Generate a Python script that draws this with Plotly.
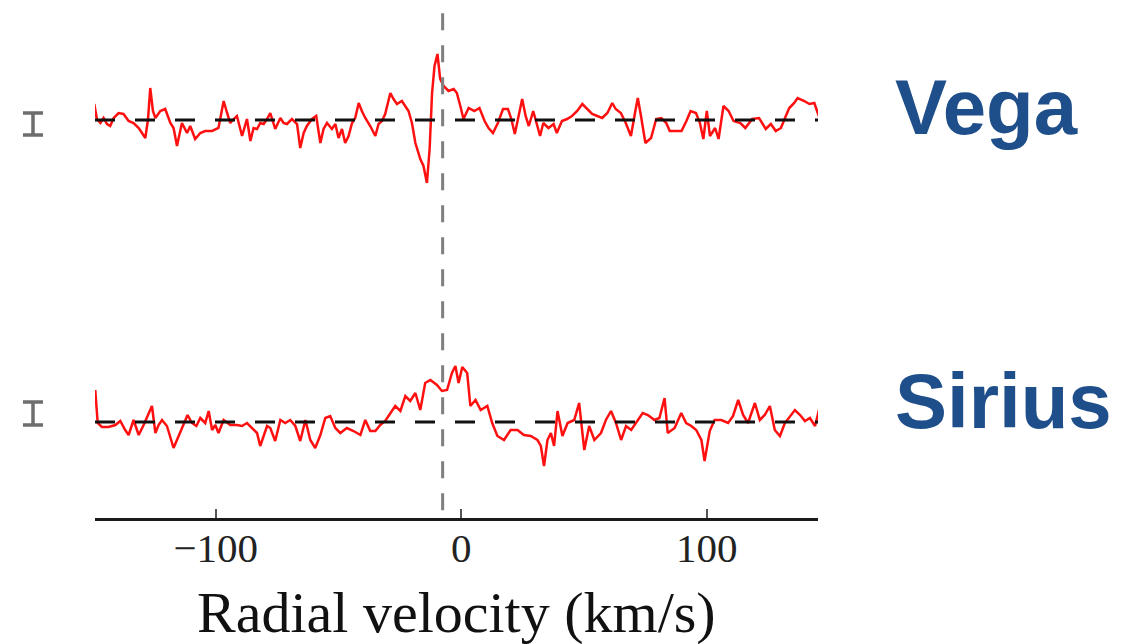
import plotly.graph_objects as go

# ---------------- data ----------------
vega_vel = [-149.8, -149.5, -148.4, -147.0, -145.7, -144.3, -143.0, -141.6, -139.6, -137.6,
            -135.5, -133.5, -131.4, -130.1, -128.7, -127.6, -126.7, -125.6, -124.6, -122.6,
            -120.6, -118.5, -117.2, -115.8, -113.8, -111.7, -110.4, -108.4, -106.3, -104.3,
            -101.5, -98.9, -96.8, -95.4, -94.1, -92.7, -91.4, -89.3, -87.3, -85.9,
            -84.6, -83.2, -81.9, -80.5, -79.1, -77.8, -75.8, -73.7, -72.4, -71.0,
            -69.0, -66.9, -65.6, -64.2, -62.9, -60.8, -59.1, -57.4, -56.1, -54.7,
            -52.7, -51.3, -50.0, -48.6, -47.3, -45.9, -44.5, -43.2, -41.8, -40.5,
            -39.1, -37.1, -35.0, -33.7, -32.3, -31.0, -28.9, -27.6, -26.2, -24.2,
            -22.8, -21.5, -20.1, -18.7, -16.7, -15.4, -14.0, -12.9, -11.9, -10.9,
            -9.7, -8.6, -7.2, -5.2, -3.1, -1.8, -0.4, 0.9, 3.0, 5.3,
            7.4, 9.5, 11.1, 12.9, 14.9, 17.0, 19.0, 20.4, 21.8, 23.4,
            24.8, 26.2, 27.5, 29.3, 30.7, 32.1, 33.4, 35.5, 37.6, 38.9,
            41.0, 43.1, 45.1, 47.2, 49.3, 51.3, 53.3, 55.4, 57.4, 59.5,
            61.5, 62.9, 65.0, 67.0, 69.1, 70.9, 71.9, 73.2, 75.0, 77.3,
            79.4, 81.5, 83.5, 84.9, 86.9, 89.7, 91.7, 93.4, 95.6, 97.2,
            98.6, 100.0, 101.3, 103.4, 104.8, 106.8, 108.9, 110.9, 113.7, 115.7,
            118.5, 121.3, 124.0, 126.1, 128.1, 130.2, 132.2, 133.6, 135.6, 137.0,
            139.7, 141.8, 143.8, 145.9]
vega_stokes = [-1.6, 1.6, 0.1, -0.3, 0.2, -0.4, -0.6, 0.2, 0.7, 0.6,
               -0.1, -0.3, -0.8, -1.3, -1.8, 0.1, 3.2, 0.9, 0.2, 0.9,
               1.1, -0.3, -0.8, -2.6, -0.3, -1.3, -0.6, -1.9, -1.3, -1.1,
               -1.1, -0.8, 1.9, 0.7, -0.3, 0.1, 0.4, -1.6, 0.1, -2.1,
               -0.8, -0.9, -0.3, -0.4, 0.1, 0.7, -0.9, 0.2, -0.3, -0.4,
               0.1, -0.4, -2.8, -1.3, -0.6, 0.1, 0.4, -2.3, -0.9, -0.3,
               -0.9, -0.4, -1.8, -0.9, -2.3, -1.6, -0.3, 0.2, 1.7, 0.9,
               0.2, -0.6, -1.6, -0.4, -0.1, 0.6, 2.7, 2.1, 1.6, 1.9,
               1.4, 0.9, -0.3, -2.3, -3.9, -4.6, -6.3, -2.9, 2.7, 5.4,
               6.6, 4.1, 3.4, 2.9, 3.1, 2.7, 1.4, 0.1, 1.2, 0.9,
               1.2, -0.1, -0.8, -1.3, -0.3, 1.1, 1.1, 0.1, -1.4, 0.4,
               2.1, 0.4, -0.6, 0.9, -0.3, -1.6, -0.3, -0.8, -0.4, -1.3,
               -0.1, 0.1, 0.4, 0.9, 1.6, 1.1, 0.6, 0.4, 0.2, 0.7,
               1.7, 1.1, 0.7, -0.3, -1.6, 0.9, 2.2, 0.4, -2.3, -1.8,
               0.1, 0.2, -0.3, -1.1, -1.1, -1.1, -0.1, 0.9, 0.7, -0.3,
               -1.9, 0.9, -1.6, -0.8, -1.9, 1.4, 0.9, -0.1, -0.3, -0.8,
               0.1, 0.2, -0.9, -0.4, -1.1, -0.8, 0.4, 1.2, 1.7, 2.2,
               1.9, 1.6, 1.7, 0.2]

sirius_vel = [-149.1, -148.1, -146.4, -143.7, -140.9, -138.9, -136.9, -135.5, -133.5, -131.4,
              -129.4, -127.8, -126.0, -124.6, -123.3, -121.9, -119.9, -117.2, -115.1, -113.1,
              -111.5, -109.7, -107.9, -106.3, -104.3, -102.9, -101.5, -100.2, -98.9, -96.8,
              -94.1, -91.4, -89.3, -87.3, -85.3, -83.2, -81.9, -80.5, -79.1, -77.8,
              -75.8, -73.7, -71.7, -69.7, -67.6, -65.6, -63.5, -61.5, -59.5, -57.4,
              -55.4, -53.4, -51.3, -49.3, -46.6, -43.9, -41.1, -39.1, -37.1, -35.0,
              -33.0, -31.0, -28.9, -26.9, -24.8, -22.8, -20.8, -18.7, -16.7, -14.7,
              -12.6, -9.9, -7.9, -5.8, -3.8, -2.4, -1.1, 0.4, 2.4, 3.7,
              5.8, 7.9, 10.6, 12.6, 14.7, 17.4, 20.1, 22.9, 25.5, 28.3,
              31.0, 32.4, 33.7, 35.1, 36.5, 37.8, 39.2, 41.2, 43.3, 46.0,
              48.0, 50.1, 52.1, 54.2, 56.9, 58.9, 61.0, 63.0, 65.1, 67.1,
              69.2, 71.9, 73.9, 76.0, 78.7, 80.7, 82.8, 84.1, 86.9, 89.6,
              91.6, 93.7, 95.7, 97.8, 99.1, 101.2, 103.2, 105.9, 108.7, 110.7,
              112.8, 114.8, 116.8, 119.6, 121.6, 123.6, 125.7, 127.7, 129.8, 131.8,
              133.9, 135.9, 138.0, 140.0, 142.0, 144.1, 146.2]
sirius_stokes = [3.2, -0.1, -0.5, -0.5, -0.3, 0.1, -0.8, -1.3, 0.2, -1.3,
                 -0.3, 0.6, 1.6, -1.1, -0.3, 0.2, -0.4, -2.6, -1.4, -0.3,
                 0.7, -0.1, -0.4, 0.4, -0.1, 1.1, -0.8, -0.3, -1.1, 0.2,
                 -0.3, -0.3, -0.4, -0.1, -0.6, -1.1, -2.4, -1.3, -0.4, -0.6,
                 -1.9, 0.2, -0.1, 0.2, -0.4, -1.9, 0.2, -1.8, -2.6, -1.3,
                 0.4, 0.6, -0.6, -1.1, -0.6, -0.9, -1.3, 0.2, -0.9, -0.9,
                 -0.3, 0.1, 0.9, 1.6, 1.1, 2.6, 2.1, 2.9, 1.2, 3.9,
                 4.2, 3.7, 3.1, 3.2, 4.9, 5.6, 3.9, 5.5, 4.9, 1.6,
                 2.2, 1.2, 1.6, -0.1, -1.4, -1.8, -0.8, -0.8, -1.3, -1.4,
                 -1.8, -2.4, -4.4, -1.8, -1.1, -2.4, 1.1, -1.4, -0.1, 0.2,
                 1.9, -2.8, -0.4, -1.8, -1.1, 0.2, 1.1, -0.1, -1.8, -0.4,
                 -0.8, 0.2, 0.9, 0.7, 0.2, 0.4, 2.4, -1.1, -0.6, 0.9,
                 -0.1, -0.4, -0.8, -1.8, -3.9, -0.9, 0.2, 0.2, -0.1, 0.6,
                 2.2, 0.7, -0.1, 1.9, 0.2, 0.7, 1.6, -0.8, -1.4, -0.1,
                 0.6, 1.2, 0.7, 0.1, 0.4, -0.4, 1.7]

star_names = ["Vega", "Sirius"]
star_offsets = [30.2, 0.0]          # vertical shift of each profile
err_centers = [29.8, 0.85]          # typical error bar position
err_halfsizes = [1.1, 1.15]
rv_marker = -7.6                    # vertical reference velocity (km/s)
tick_values = [-100, 0, 100]
x_range = [-149.2, 145.3]
y_range = [-9.6, 42.2]

W, H = 1127, 644
PLOT_BOTTOM = 518

fig = go.Figure()

for vel, st, off in [(vega_vel, vega_stokes, star_offsets[0]),
                     (sirius_vel, sirius_stokes, star_offsets[1])]:
    fig.add_trace(go.Scatter(
        x=vel, y=[off + s for s in st], mode="lines",
        line=dict(color="#ff1010", width=2.5), hoverinfo="skip", showlegend=False))

fig.add_trace(go.Scatter(
    x=[0.5, 0.5], y=err_centers, xaxis="x2", yaxis="y", mode="markers",
    marker=dict(size=1, color="rgba(0,0,0,0)"),
    error_y=dict(type="data", array=err_halfsizes, color="#6e6e6e", thickness=3.5, width=10),
    showlegend=False, hoverinfo="skip"))

shapes = []
for off in star_offsets:
    shapes.append(dict(type="line", xref="x domain", x0=0, x1=1, yref="y", y0=off, y1=off,
                       line=dict(color="#111111", width=3, dash="20px,20px")))
shapes.append(dict(type="line", xref="x", x0=rv_marker, x1=rv_marker, yref="paper",
                   y0=0.015, y1=1.0, line=dict(color="#7f7f7f", width=3, dash="17px,15px")))

annotations = [
    dict(text="<b>" + star_names[0] + "</b>", xref="paper", yref="paper", x=893 / W,
         y=(PLOT_BOTTOM - 107) / PLOT_BOTTOM,
         xanchor="left", yanchor="middle", showarrow=False,
         font=dict(family="Liberation Sans", size=78, color="#1f4f8a")),
    dict(text="<b>" + star_names[1] + "</b>", xref="paper", yref="paper", x=893 / W,
         y=(PLOT_BOTTOM - 401) / PLOT_BOTTOM,
         xanchor="left", yanchor="middle", showarrow=False,
         font=dict(family="Liberation Sans", size=78, color="#1f4f8a")),
    dict(text="Radial velocity (km/s)", xref="paper", yref="paper", x=456.5 / W,
         y=-(612 - PLOT_BOTTOM) / PLOT_BOTTOM, xanchor="center", yanchor="middle", showarrow=False,
         font=dict(family="Liberation Serif", size=58, color="#111111")),
]

fig.update_layout(
    width=W, height=H,
    margin=dict(l=0, r=0, t=0, b=H - PLOT_BOTTOM),
    paper_bgcolor="white", plot_bgcolor="white",
    showlegend=False,
    xaxis=dict(domain=[95 / W, 818 / W], range=x_range, anchor="y",
               showline=True, linecolor="#1a1a1a", linewidth=3,
               ticks="inside", ticklen=9, tickwidth=1.5, tickcolor="#555555",
               tickvals=tick_values, showgrid=False, zeroline=False,
               ticklabelstandoff=-8,
               tickfont=dict(family="Liberation Serif", size=41, color="#222222")),
    xaxis2=dict(domain=[0, 66 / W], range=[0, 1], anchor="y", visible=False),
    yaxis=dict(range=y_range, visible=False),
    shapes=shapes, annotations=annotations,
)

fig.write_html("out.html")
